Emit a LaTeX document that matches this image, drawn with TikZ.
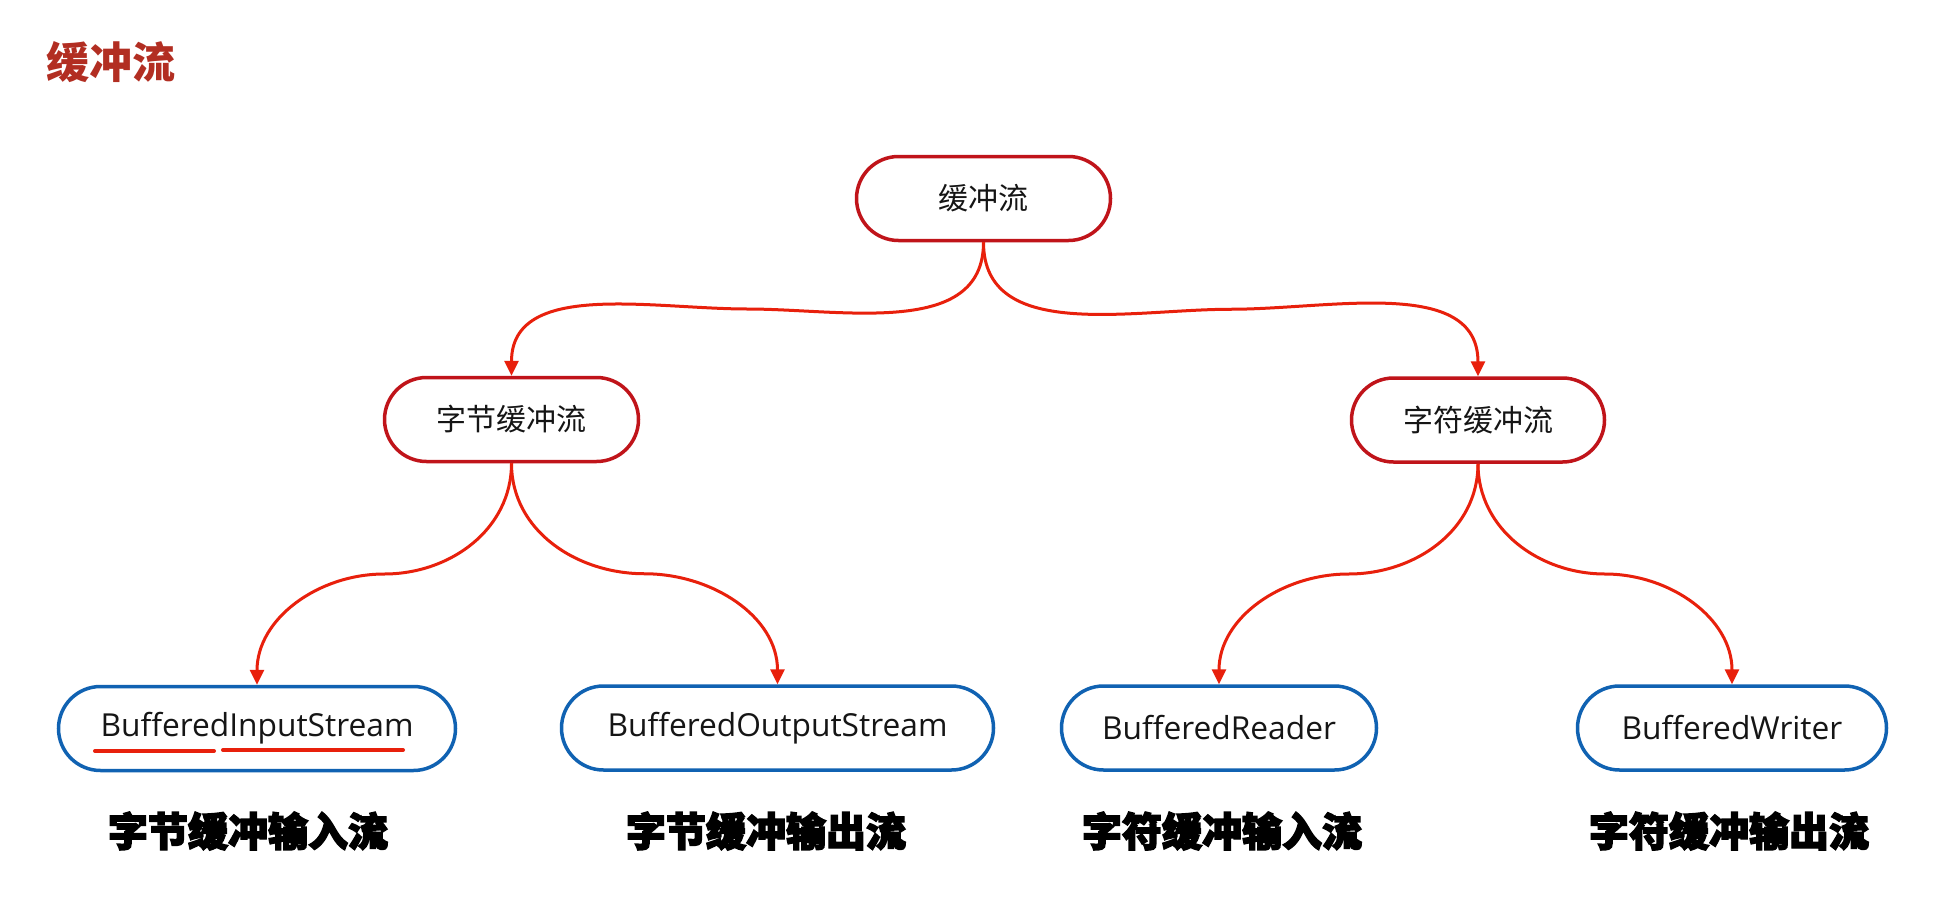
\documentclass[tikz,border=0pt]{standalone}
\usepackage{fontspec}
\setmainfont{Open Sans}
\newfontfamily\cjk{Noto Sans CJK SC}
\newfontfamily\cjkheavy{Noto Sans CJK SC}[BoldFeatures={FakeBold=3.5}]
\usetikzlibrary{arrows.meta,calc}
\definecolor{nodered}{HTML}{C0141A}
\definecolor{linered}{HTML}{E8200C}
\definecolor{nodeblue}{HTML}{1062B2}
\definecolor{titlered}{HTML}{B22E22}
\definecolor{txt}{HTML}{151515}
\tikzset{
  pill/.style={draw, line width=3.5pt, rounded corners=42pt, minimum height=84pt, inner sep=0pt, fill=white, text=txt},
  redpill/.style={pill, draw=nodered, font=\cjk\fontsize{30}{36}\selectfont},
  bluepill/.style={pill, draw=nodeblue, font=\fontsize{31.7}{38}\selectfont},
  heavylabel/.style={font=\cjkheavy\bfseries\fontsize{40}{48}\selectfont, text=black},
  conn/.style={draw=linered, line width=3pt, -{Triangle[length=15pt,width=14pt]}},
  underl/.style={draw=linered, line width=4pt, line cap=round}
}
\begin{document}
\begin{tikzpicture}[x=1pt,y=-1pt]
\useasboundingbox (0,0) rectangle (1955,897);
\fill[white] (0,0) rectangle (1955,897);

\node[font=\cjk\bfseries\fontsize{43}{50}\selectfont, text=titlered] (title) at (111,62) {缓冲流};

\node[redpill, minimum width=254pt] (root) at (983.5,198.5) {缓冲流};
\node[redpill, minimum width=254pt] (byte) at (511.5,419.5) {字节缓冲流};
\node[redpill, minimum width=253pt] (char) at (1478,420) {字符缓冲流};

\node[bluepill, minimum width=397pt] (bis) at (257,728.5) {BufferedInputStream};
\node[bluepill, minimum width=432pt] (bos) at (777.5,728) {BufferedOutputStream};
\node[bluepill, minimum width=315pt] (br) at (1219,728) {BufferedReader};
\node[bluepill, minimum width=309pt] (bw) at (1732,728) {BufferedWriter};

\node[heavylabel] (l1) at (248,831) {字节缓冲输入流};
\node[heavylabel] (l2) at (766,831) {字节缓冲输出流};
\node[heavylabel] (l3) at (1222,831) {字符缓冲输入流};
\node[heavylabel] (l4) at (1729,831) {字符缓冲输出流};

\coordinate (m1) at ($(root.south)!0.5!(byte.north)$);
\coordinate (m2) at ($(root.south)!0.5!(char.north)$);
\coordinate (m3) at ($(byte.south)!0.5!(bis.north)$);
\coordinate (m4) at ($(byte.south)!0.5!(bos.north)$);
\coordinate (m5) at ($(char.south)!0.5!(br.north)$);
\coordinate (m6) at ($(char.south)!0.5!(bw.north)$);

\draw[conn] (root.south) to[out=-90,in=0] (m1) to[out=180,in=90] (byte.north);
\draw[conn] (root.south) to[out=-90,in=180] (m2) to[out=0,in=90] (char.north);
\draw[conn] (byte.south) to[out=-90,in=0] (m3) to[out=180,in=90] (bis.north);
\draw[conn] (byte.south) to[out=-90,in=180] (m4) to[out=0,in=90] (bos.north);
\draw[conn] (char.south) to[out=-90,in=0] (m5) to[out=180,in=90] (br.north);
\draw[conn] (char.south) to[out=-90,in=180] (m6) to[out=0,in=90] (bw.north);

\draw[underl] (95,751) -- (214,751);
\draw[underl] (223,750) -- (403,750);
\end{tikzpicture}
\end{document}
